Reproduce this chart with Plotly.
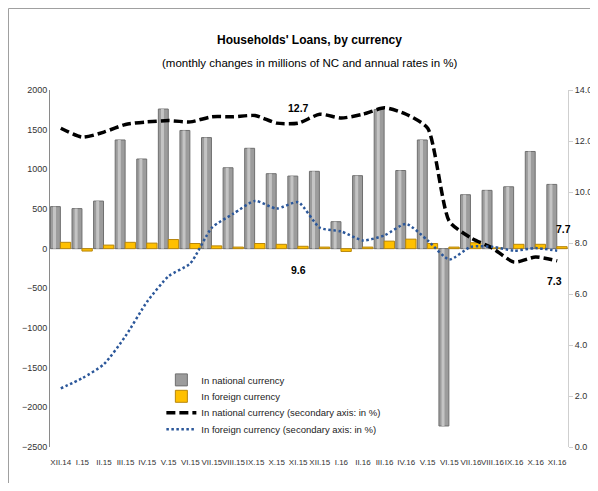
"""Households' loans by currency: monthly changes (bars) and annual rates (lines)."""
import plotly.graph_objects as go

# --- Data ---
months = ["XII.14", "I.15", "II.15", "III.15", "IV.15", "V.15", "VI.15", "VII.15",
          "VIII.15", "IX.15", "X.15", "XI.15", "XII.15", "I.16", "II.16", "III.16",
          "IV.16", "V.15", "VI.15", "VII.16", "VIII.16", "IX.16", "X.16", "XI.16"]

national_change = [530, 505, 600, 1370, 1130, 1760, 1490, 1400, 1020, 1265, 945, 915,
                   975, 340, 920, 1755, 985, 1370, -2235, 680, 735, 780, 1225, 810]
foreign_change = [80, -30, 45, 80, 70, 115, 65, 35, 20, 65, 55, 30,
                  20, -35, 20, 95, 120, 65, 20, 75, 10, 55, 55, 25]

national_rate = [12.5, 12.15, 12.35, 12.65, 12.75, 12.8, 12.75, 12.95, 12.95, 13.0, 12.7, 12.7,
                 13.05, 12.9, 13.05, 13.3, 13.05, 12.5, 8.85, 8.2, 7.8, 7.25, 7.45, 7.3]
foreign_rate = [2.3, 2.7, 3.25, 4.35, 5.7, 6.7, 7.2, 8.6, 9.15, 9.65, 9.35, 9.6,
                8.6, 8.45, 8.1, 8.3, 8.75, 8.1, 7.35, 7.85, 7.85, 7.7, 7.8, 7.7]

# --- Theme ---
_FONT = "Liberation Sans, Arial, sans-serif"
_TEXT = "#333333"
_GRAY = "#9c9c9c"
_GRAY_EDGE = "#6f6f6f"
_GRAY_LIGHT = "#c4c4c4"
_YELLOW = "#FFC000"
_YELLOW_EDGE = "#B8860B"
_BLUE = "#2B579A"

# page body has an 8px margin, so the figure is sized to fit the window
_W, _H = 590, 475
_M = dict(l=42, r=30, t=82, b=36)
_PW = _W - _M["l"] - _M["r"]
_PH = _H - _M["t"] - _M["b"]

x = list(range(len(months)))

fig = go.Figure()

fig.add_trace(go.Bar(
    x=x, y=national_change, name="In national currency", legend="legend",
    width=0.46, offset=-0.48,
    marker=dict(color=_GRAY, line=dict(color=_GRAY_EDGE, width=1)),
))
# highlight strip to give the bars a rounded look
fig.add_trace(go.Bar(
    x=x, y=national_change, showlegend=False, hoverinfo="skip",
    width=0.14, offset=-0.36,
    marker=dict(color=_GRAY_LIGHT, line=dict(width=0)),
))
fig.add_trace(go.Bar(
    x=x, y=foreign_change, name="In foreign currency", legend="legend2",
    width=0.48, offset=-0.02,
    marker=dict(color=_YELLOW, line=dict(color=_YELLOW_EDGE, width=1)),
))

fig.add_trace(go.Scatter(
    x=x, y=national_rate, yaxis="y2", mode="lines", legend="legend3",
    name="In national currency (secondary axis: in %)",
    line=dict(color="black", width=3.5, dash="9px,4px", shape="spline", smoothing=0.6),
))
fig.add_trace(go.Scatter(
    x=x, y=foreign_rate, yaxis="y2", mode="lines", legend="legend4",
    name="In foreign currency (secondary axis: in %)",
    line=dict(color=_BLUE, width=2.5, dash="2.5px,2.5px", shape="spline", smoothing=0.6),
))

# value labels
labels = [
    (11, national_rate[11], 0, 15),
    (11, foreign_rate[11], 0, -68),
    (23, foreign_rate[23], 6, 22),
    (23, national_rate[23], -3, -20),
]
for i, v, dx, dy in labels:
    fig.add_annotation(
        x=i, y=v, xref="x", yref="y2", text=f"<b>{v:.1f}</b>", showarrow=False,
        xshift=dx, yshift=dy, font=dict(size=10.5, color="black", family=_FONT),
    )

# titles
fig.add_annotation(
    x=0.5, y=1.14, xref="paper", yref="paper", yanchor="middle", showarrow=False,
    text="<b>Households' Loans, by currency</b>",
    font=dict(size=12, color="black", family=_FONT),
)
fig.add_annotation(
    x=0.5, y=1.0756, xref="paper", yref="paper", yanchor="middle", showarrow=False,
    text="(monthly changes in millions of NC and annual rates in %)",
    font=dict(size=11.5, color="black", family=_FONT),
)

# frame lines (top and left edge of the chart area)
x_left = -(_M["l"] - 0.5) / _PW
y_top = (_PH + _M["t"] - 0.5) / _PH
fig.add_shape(type="line", xref="paper", yref="paper", x0=x_left, x1=(_W - _M["l"]) / _PW,
              y0=y_top, y1=y_top, line=dict(color="#a0a0a0", width=1))
fig.add_shape(type="line", xref="paper", yref="paper", x0=x_left, x1=x_left,
              y0=-_M["b"] / _PH, y1=y_top, line=dict(color="#a0a0a0", width=1))

# one legend per entry so the rows can sit closer together
legend_rows = {}
for n, row_y in enumerate([0.188, 0.142, 0.096, 0.050]):
    key = "legend" if n == 0 else f"legend{n + 1}"
    legend_rows[key] = dict(
        x=0.215, y=row_y, xanchor="left", yanchor="middle",
        bgcolor="rgba(0,0,0,0)", font=dict(size=9.5, color="#222222"), itemwidth=30,
    )

fig.update_layout(
    width=_W, height=_H,
    paper_bgcolor="white", plot_bgcolor="white",
    font=dict(family=_FONT, size=9, color=_TEXT),
    margin=_M,
    barmode="overlay",
    showlegend=True,
    **legend_rows,
    xaxis=dict(
        range=[-0.5, len(months) - 0.5], tickmode="array", tickvals=x, ticktext=months,
        showgrid=False, zeroline=False, showline=False, ticks="",
        tickfont=dict(size=8), tickangle=0, ticklabelstandoff=9, automargin=False,
    ),
    yaxis=dict(
        range=[-2500, 2000], dtick=500, showgrid=False,
        zeroline=True, zerolinecolor="#a0a0a0", zerolinewidth=1,
        showline=True, linecolor="#8a8a8a", linewidth=1, ticks="",
        tickfont=dict(size=9), automargin=False,
    ),
    yaxis2=dict(
        range=[0, 14], dtick=2, tickformat=".1f", overlaying="y", side="right",
        showgrid=False, zeroline=False, showline=True, linecolor="#cfcfcf",
        ticks="outside", ticklen=4, tickcolor="#cfcfcf",
        tickfont=dict(size=9), automargin=False,
    ),
)

fig.write_html("out.html")
